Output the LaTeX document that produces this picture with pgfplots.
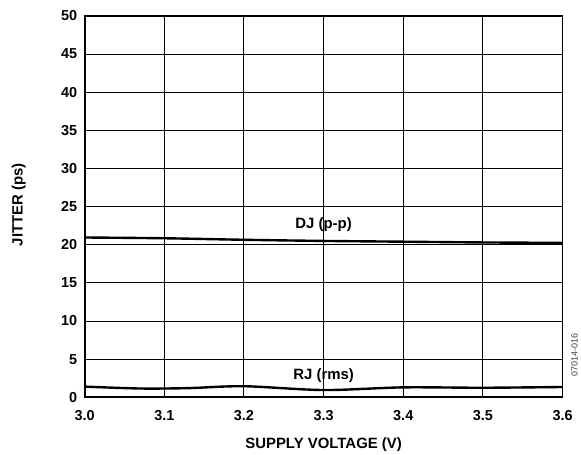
\documentclass[border=0pt]{standalone}
\usepackage{pgfplots}
\pgfplotsset{compat=1.18}
\usepackage{fontspec}
\setmainfont{Liberation Sans}
\begin{document}
\begin{tikzpicture}[x=1pt,y=1pt]
\begin{axis}[
  at={(0,0)}, anchor=south west,
  scale only axis, width=480pt, height=383pt,
  xmin=3.0, xmax=3.6, ymin=0, ymax=50,
  xtick={3.0,3.1,...,3.6}, ytick={0,5,...,50},
  xticklabel style={/pgf/number format/.cd,fixed,fixed zerofill,precision=1},
  /pgf/number format/assume math mode=true,
  tick label style={font=\fontsize{14.5}{16}\selectfont\bfseries},
  label style={font=\fontsize{15}{17}\selectfont\bfseries},
  xlabel={SUPPLY VOLTAGE (V)}, ylabel={JITTER (ps)},
  grid=major, major grid style={black, line width=1pt},
  axis line style={black, line width=1.8pt},
  tick style={draw=none},
  xticklabel shift=10pt,
  yticklabel shift=4pt,
  xlabel style={at={(axis description cs:0.5,0)}, anchor=base, yshift=-51pt},
  ylabel style={at={(axis description cs:-0.138,0.505)}, anchor=center},
  clip=false,
]
\addplot[black, line width=2.4pt, smooth] coordinates {
 (3.0,20.95) (3.1,20.85) (3.2,20.65) (3.3,20.5) (3.4,20.4) (3.5,20.3) (3.6,20.25)};
\addplot[black, line width=2.4pt, smooth, tension=0.5] coordinates {
 (3.0,1.4) (3.07,1.15) (3.13,1.2) (3.2,1.45) (3.3,0.95) (3.4,1.3) (3.5,1.25) (3.6,1.35)};
\node[font=\fontsize{15}{17}\selectfont\bfseries] at (axis cs:3.3,22.7) {DJ (p-p)};
\node[font=\fontsize{15}{17}\selectfont\bfseries] at (axis cs:3.3,2.9) {RJ (rms)};
\node[font=\fontsize{9}{10}\selectfont, rotate=90, text=black!75] at (axis cs:3.615,5.5) {07014-016};
\end{axis}
\path[use as bounding box] (-85,-54) rectangle (496,399);
\end{tikzpicture}
\end{document}
